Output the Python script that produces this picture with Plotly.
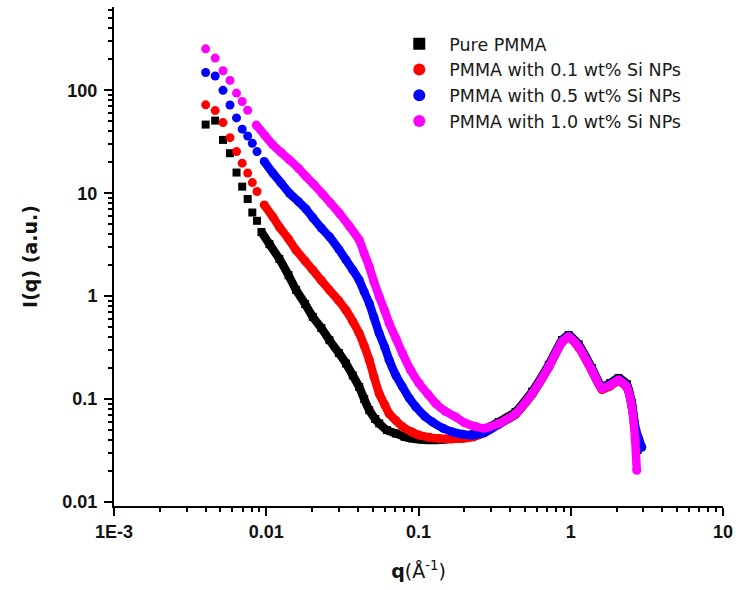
import plotly.graph_objects as go

# ---------------- data ----------------
series_names = ["Pure PMMA", "PMMA with 0.1 wt% Si NPs",
                "PMMA with 0.5 wt% Si NPs", "PMMA with 1.0 wt% Si NPs"]

q_pure = [0.0040, 0.00462, 0.0052, 0.00578, 0.00638, 0.00695, 0.00755, 0.0081, 0.0087, 0.0093,
          0.0105, 0.0122, 0.0140, 0.0157, 0.0180, 0.0202, 0.0230, 0.0260, 0.0300, 0.0334,
          0.0370, 0.0408, 0.0440, 0.0475, 0.0520, 0.0552, 0.0620, 0.0710, 0.0810, 0.0912,
          0.1050, 0.1173, 0.1400, 0.1700, 0.2000, 0.2400, 0.2800, 0.3370, 0.4340, 0.5570,
          0.7170, 0.8760, 0.9690, 1.1270, 1.3770, 1.6010, 1.8170, 2.0590, 2.3340, 2.5170,
          2.6490, 2.7500]
i_pure = [46.5, 50.8, 33.0, 24.5, 15.9, 11.6, 8.8, 6.5, 5.4, 4.2,
          3.2, 2.3, 1.6, 1.15, 0.84, 0.63, 0.49, 0.374, 0.28, 0.222,
          0.17, 0.131, 0.10, 0.078, 0.064, 0.058, 0.050, 0.0463, 0.0430, 0.0414,
          0.0405, 0.0400, 0.0402, 0.0415, 0.0435, 0.047, 0.052, 0.060, 0.075, 0.118,
          0.215, 0.375, 0.42, 0.34, 0.20, 0.132, 0.143, 0.160, 0.140, 0.092,
          0.050, 0.032]

q_01 = [0.0040, 0.00462, 0.0052, 0.00578, 0.00638, 0.00695, 0.00755, 0.0081, 0.0087, 0.0097,
        0.01105, 0.0122, 0.0140, 0.0157, 0.0180, 0.0202, 0.0230, 0.0260, 0.0300, 0.0334,
        0.0370, 0.0408, 0.0440, 0.0475, 0.0510, 0.0552, 0.0600, 0.0642, 0.0710, 0.0785,
        0.0900, 0.1009, 0.1180, 0.1364, 0.1650, 0.1939, 0.2300, 0.2700, 0.3370, 0.4340,
        0.5570, 0.7170, 0.8760, 0.9690, 1.1270, 1.3770, 1.6010, 1.8170, 2.0590, 2.3340,
        2.5170, 2.6500, 2.8000]
i_01 = [72.3, 63.6, 48.6, 34.7, 25.4, 19.6, 15.7, 12.7, 10.4, 7.7,
        5.9, 4.7, 3.6, 2.8, 2.2, 1.8, 1.42, 1.146, 0.90, 0.73,
        0.57, 0.435, 0.33, 0.239, 0.165, 0.113, 0.088, 0.072, 0.062, 0.054,
        0.048, 0.0446, 0.0425, 0.0414, 0.0410, 0.0414, 0.043, 0.047, 0.057, 0.071,
        0.111, 0.203, 0.356, 0.40, 0.318, 0.188, 0.124, 0.134, 0.150, 0.130,
        0.088, 0.050, 0.041]

q_05 = [0.0040, 0.00462, 0.0052, 0.00578, 0.00638, 0.00695, 0.00755, 0.0081, 0.0087, 0.0097,
        0.01105, 0.0125, 0.01421, 0.01628, 0.01828, 0.0202, 0.0230, 0.0260, 0.0300, 0.0334,
        0.0370, 0.0408, 0.0440, 0.0475, 0.0510, 0.0552, 0.0600, 0.0642, 0.0710, 0.0785,
        0.0870, 0.0960, 0.1100, 0.1233, 0.1450, 0.1667, 0.1950, 0.2254, 0.2700, 0.3370,
        0.4340, 0.5570, 0.7170, 0.8760, 0.9690, 1.1270, 1.3770, 1.6010, 1.8170, 2.0590,
        2.3340, 2.5170, 2.6800, 2.9300]
i_05 = [149, 138, 100, 72, 54, 42, 36, 30.6, 25.4, 20.4,
        15.7, 12.6, 10.0, 8.3, 7.0, 5.8, 4.6, 3.78, 2.85, 2.25,
        1.8, 1.43, 1.1, 0.85, 0.62, 0.435, 0.32, 0.239, 0.17, 0.1315,
        0.102, 0.084, 0.068, 0.060, 0.052, 0.048, 0.0455, 0.0446, 0.047, 0.057,
        0.072, 0.113, 0.208, 0.365, 0.41, 0.328, 0.194, 0.128, 0.139, 0.155,
        0.134, 0.088, 0.050, 0.034]

q_10 = [0.0040, 0.00462, 0.0052, 0.00578, 0.00638, 0.00695, 0.00755, 0.0086, 0.0098, 0.01105,
        0.0125, 0.01421, 0.01628, 0.01828, 0.0205, 0.02348, 0.0265, 0.0302, 0.0351, 0.0408,
        0.0440, 0.0475, 0.0510, 0.0552, 0.0600, 0.0642, 0.0710, 0.0785, 0.0890, 0.1009,
        0.1150, 0.1298, 0.1500, 0.1755, 0.2000, 0.2373, 0.2700, 0.3370, 0.4340, 0.5570,
        0.7170, 0.8760, 0.9690, 1.1270, 1.3770, 1.6010, 1.8170, 2.0590, 2.3340, 2.5170,
        2.6490, 2.7140]
i_10 = [253, 206, 155, 125, 94, 78, 64, 46, 36.5, 29.5,
        25.0, 21.1, 17.5, 14.5, 12.2, 9.8, 8.0, 6.4, 4.8, 3.51,
        2.6, 1.93, 1.38, 0.99, 0.72, 0.544, 0.39, 0.278, 0.19, 0.142,
        0.112, 0.0906, 0.076, 0.0671, 0.059, 0.054, 0.052, 0.058, 0.072, 0.113,
        0.206, 0.36, 0.403, 0.322, 0.191, 0.127, 0.1365, 0.153, 0.1315, 0.084,
        0.040, 0.0203]

x_tickvals = [0.001, 0.01, 0.1, 1, 10]
x_ticktext = ["1E-3", "0.01", "0.1", "1", "10"]
y_tickvals = [0.01, 0.1, 1, 10, 100]
y_ticktext = ["0.01", "0.1", "1", "10", "100"]

# ---------------- styles ----------------
colors = ["#000000", "#FF0000", "#0000FF", "#FF00FF"]
symbols = ["square", "circle", "circle", "circle"]
msizes = [8, 9, 9, 9]
dense_from = [0.0093, 0.0097, 0.0097, 0.0086]   # where the measured points merge into a band
band_width = 8.5

TICK_FONT = "Liberation Sans, Arial, sans-serif"
TEXT_FONT = "DejaVu Sans, Verdana, sans-serif"

fig = go.Figure()
data = [(q_pure, i_pure), (q_01, i_01), (q_05, i_05), (q_10, i_10)]
for k, (qs, iv) in enumerate(data):
    dq = [q for q in qs if q >= dense_from[k]]
    di = [v for q, v in zip(qs, iv) if q >= dense_from[k]]
    fig.add_trace(go.Scatter(
        x=dq, y=di, mode="lines", showlegend=False, hoverinfo="skip",
        line=dict(color=colors[k], width=band_width, shape="spline", smoothing=0.5),
    ))
    fig.add_trace(go.Scatter(
        x=qs, y=iv, mode="markers", name=series_names[k],
        marker=dict(color=colors[k], symbol=symbols[k], size=msizes[k], line=dict(width=0)),
    ))

axis_common = dict(
    type="log", showline=True, linecolor="black", linewidth=2,
    ticks="outside", ticklen=8, tickwidth=2, tickcolor="black",
    showgrid=False, zeroline=False, mirror=False,
    tickfont=dict(family=TICK_FONT, size=18, color="#111111", weight="bold"),
    minor=dict(ticks="outside", ticklen=4, tickwidth=1.5, tickcolor="black",
               dtick="D1", showgrid=False),
)

fig.update_layout(
    width=740, height=590,
    margin=dict(l=114, r=15, t=7, b=84),
    paper_bgcolor="white", plot_bgcolor="white",
    xaxis=dict(axis_common, range=[-3, 1], tickmode="array",
               tickvals=x_tickvals, ticktext=x_ticktext,
               title=dict(text="<b>q</b>(Å<sup>-1</sup>)",
                          font=dict(family=TEXT_FONT, size=19, color="#111111"), standoff=24)),
    yaxis=dict(axis_common, range=[-2.039, 2.81], tickmode="array",
               tickvals=y_tickvals, ticktext=y_ticktext, ticklabelstandoff=3,
               title=dict(text="<b>I(q) (a.u.)</b>",
                          font=dict(family=TEXT_FONT, size=19, color="#111111"), standoff=20)),
    legend=dict(x=0.452, y=0.962, xanchor="left", yanchor="top",
                bgcolor="rgba(0,0,0,0)", borderwidth=0,
                font=dict(family=TEXT_FONT, size=17.5, color="#1a1a1a"),
                itemwidth=50, itemsizing="constant", tracegroupgap=0),
)

fig.write_html("out.html")
